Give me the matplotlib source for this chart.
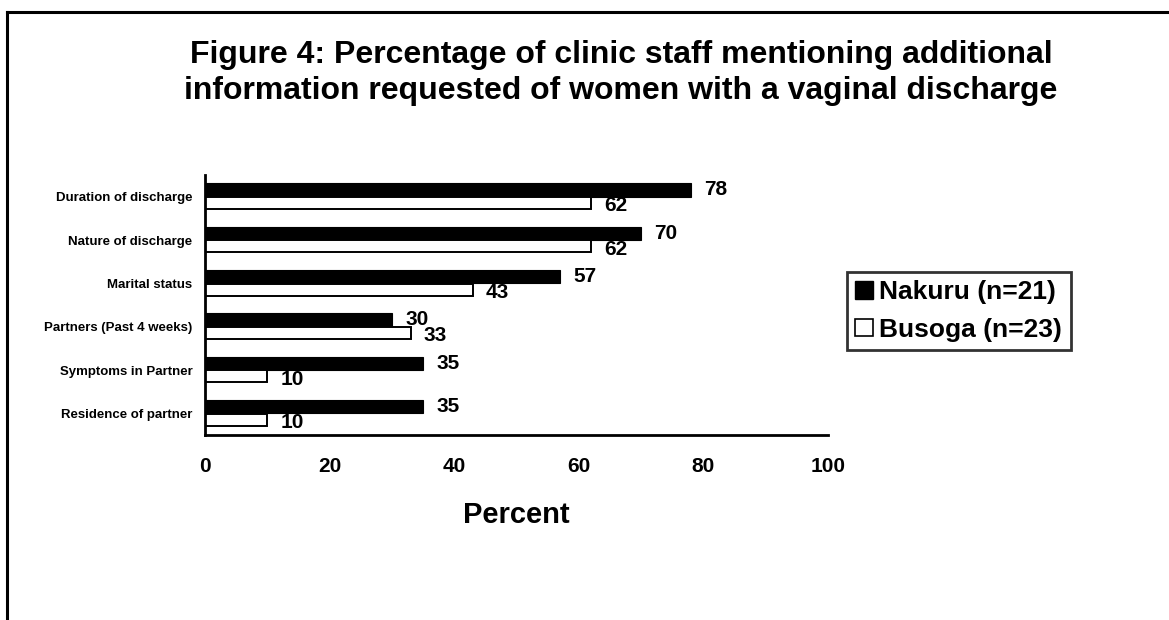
import matplotlib
matplotlib.use("Agg")
import matplotlib.pyplot as plt
from matplotlib.patches import Patch
from matplotlib.lines import Line2D
import numpy as np

categories = ["Duration of discharge", "Nature of discharge", "Marital status",
              "Partners (Past 4 weeks)", "Symptoms in Partner", "Residence of partner"]
nakuru = [78, 70, 57, 30, 35, 35]
busoga = [62, 62, 43, 33, 10, 10]
series_names = ["Nakuru (n=21)", "Busoga (n=23)"]
xticks = [0, 20, 40, 60, 80, 100]
title = ("Figure 4: Percentage of clinic staff mentioning additional\n"
         "information requested of women with a vaginal discharge")
xlabel = "Percent"

plt.rcParams['font.family'] = ['Liberation Sans', 'DejaVu Sans']
plt.rcParams['font.weight'] = 'bold'

W, H = 1169, 620
fig = plt.figure(figsize=(W / 100, H / 100), dpi=100)

# outer frame (left and top edges)
fig.add_artist(Line2D([7 / W, 7 / W], [0, 1 - 12 / H], color='black', lw=2.2,
                      transform=fig.transFigure))
fig.add_artist(Line2D([7 / W, 1], [1 - 12 / H, 1 - 12 / H], color='black', lw=2.2,
                      transform=fig.transFigure))

ax = fig.add_axes([205 / W, 1 - 435 / H, (828 - 205) / W, (435 - 175) / H])

y = np.arange(len(categories))
h = 0.31
ax.barh(y - h / 2, nakuru, height=h, color='black', edgecolor='black', linewidth=0.8,
        label=series_names[0])
ax.barh(y + h / 2 - 0.01, busoga, height=h - 0.03, color='white', edgecolor='black',
        linewidth=1.4, label=series_names[1])

for i in range(len(categories)):
    ax.annotate(str(nakuru[i]), (nakuru[i], y[i] - h / 2), xytext=(9.5, 0),
                textcoords='offset points', va='center', ha='left',
                fontsize=15, fontweight='bold')
    ax.annotate(str(busoga[i]), (busoga[i], y[i] + h / 2 + 0.06), xytext=(9.5, 0),
                textcoords='offset points', va='center', ha='left',
                fontsize=15, fontweight='bold')

ax.set_xlim(0, 100)
ax.set_ylim(len(categories) - 0.5, -0.5)
ax.set_xticks(xticks)
ax.set_xticklabels([str(t) for t in xticks], fontsize=15, fontweight='bold')
ax.set_yticks(y)
ax.set_yticklabels(categories, fontsize=9.5, fontweight='bold')
ax.tick_params(axis='x', length=0, pad=16)
ax.tick_params(axis='y', length=0, pad=9)
for s in ['top', 'right']:
    ax.spines[s].set_visible(False)
for s in ['left', 'bottom']:
    ax.spines[s].set_linewidth(2)
ax.set_xlabel(xlabel, fontsize=21, fontweight='bold', labelpad=18)

fig.text(621 / W, 1 - 73 / H, title, ha='center', va='center', fontsize=23,
         fontweight='bold', linespacing=1.3)

handles = [Patch(facecolor='black', edgecolor='black'),
           Patch(facecolor='white', edgecolor='black', linewidth=1.2)]
leg = fig.legend(handles, series_names, loc='upper left',
                 bbox_to_anchor=(847 / W, 1 - 272 / H),
                 prop={'weight': 'bold', 'size': 19},
                 frameon=True, fancybox=False, handlelength=0.65, handleheight=0.65,
                 handletextpad=0.25, labelspacing=0.5, borderpad=0.32,
                 borderaxespad=0)
leg.get_frame().set_edgecolor('black')
leg.get_frame().set_linewidth(2)

fig.savefig("out.png", dpi=100)
